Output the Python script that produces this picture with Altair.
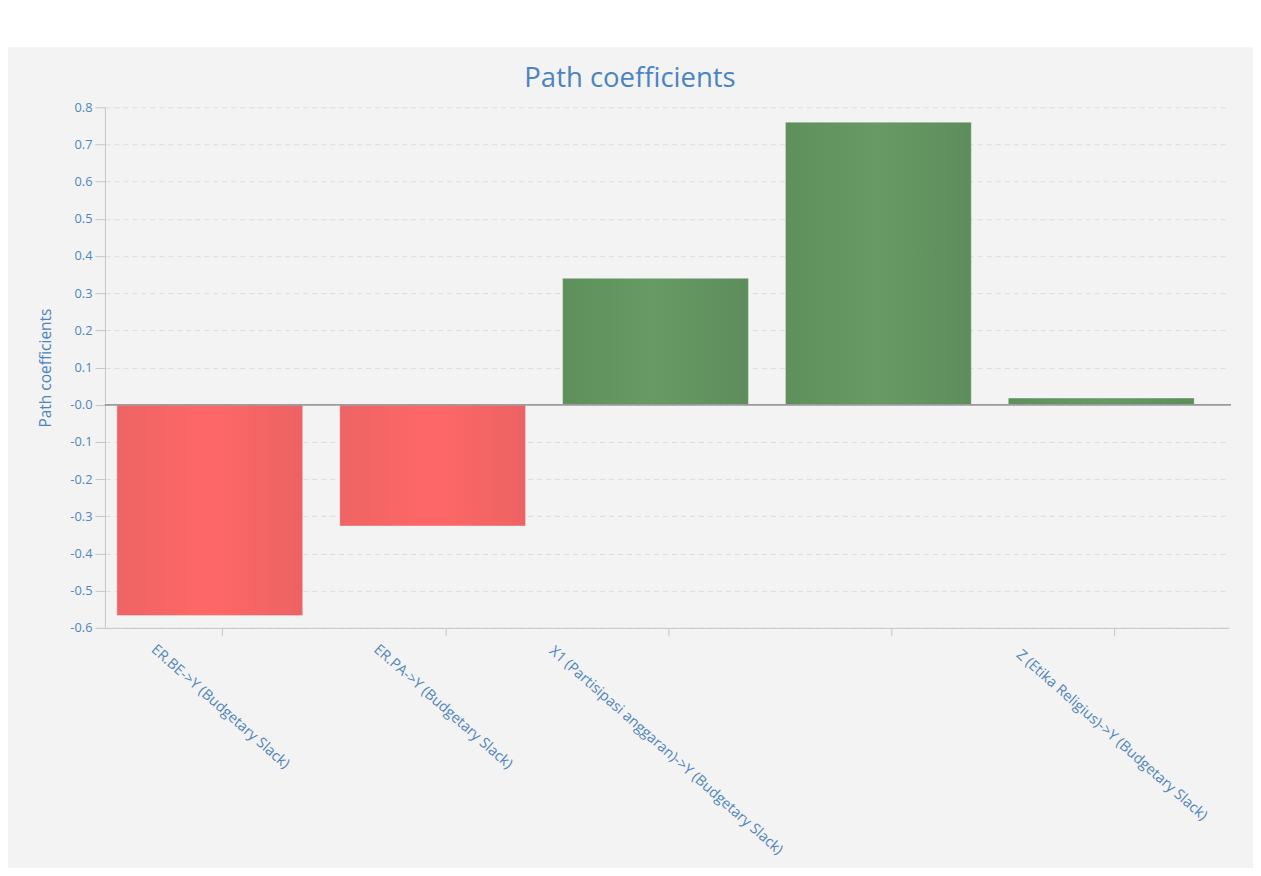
import altair as alt
import pandas as pd

# ---- data ----
paths = [
    "ER.BE->Y (Budgetary Slack)",
    "ER.PA->Y (Budgetary Slack)",
    "X1 (Partisipasi anggaran)->Y (Budgetary Slack)",
    "X2 (Budget Emphasis)->Y (Budgetary Slack)",
    "Z (Etika Religius)->Y (Budgetary Slack)",
]
coefficients = [-0.567, -0.326, 0.340, 0.760, 0.018]
label_shown = [True, True, True, False, True]
y_ticks = [-0.6, -0.5, -0.4, -0.3, -0.2, -0.1, 0.0, 0.1, 0.2, 0.3, 0.4, 0.5, 0.6, 0.7, 0.8]

df = pd.DataFrame({"path": paths, "coef": coefficients, "shown": label_shown})

FONT = "Open Sans"
BLUE = "#4a84c2"
LABEL_BLUE = "#4f86bd"
AXIS_GRAY = "#c6c6c6"
W, H = 1125, 521
LABEL_SIZE = 14.5
LABEL_ANGLE = 41.5
CHAR_W = 6.6  # approx. pixel width of one label character at LABEL_SIZE
SIN_A, COS_A = 0.663, 0.749

red_grad = alt.LinearGradient(
    gradient="linear", x1=0, x2=1, y1=0, y2=0,
    stops=[alt.GradientStop(offset=0, color="#ee6464"),
           alt.GradientStop(offset=0.5, color="#ff6767"),
           alt.GradientStop(offset=1, color="#ec6363")],
)
green_grad = alt.LinearGradient(
    gradient="linear", x1=0, x2=1, y1=0, y2=0,
    stops=[alt.GradientStop(offset=0, color="#5e905c"),
           alt.GradientStop(offset=0.5, color="#689a66"),
           alt.GradientStop(offset=1, color="#5c8d5a")],
)

x_scale = alt.Scale(domain=paths, paddingInner=0.166, paddingOuter=0.105, align=0.255)
y_scale = alt.Scale(domain=[-0.6, 0.8], nice=False, zero=False)

x_axis = alt.Axis(labels=False, ticks=True, tickSize=8, tickColor=AXIS_GRAY,
                  domainColor=AXIS_GRAY, bandPosition=0.57, grid=False)
y_axis = alt.Axis(
    values=y_ticks, tickCount=30,
    labelExpr="abs(datum.value) < 1e-9 ? '-0.0' : (datum.value < 0 ? '-' : '') + format(abs(datum.value), '.1f')",
    labelColor=LABEL_BLUE, labelFont=FONT, labelFontSize=12.8, labelPadding=3,
    tickSize=10, tickColor=AXIS_GRAY, domainColor=AXIS_GRAY,
    grid=True, gridColor="#dcdcdc", gridDash=[5, 4], gridWidth=1,
    titleColor=BLUE, titleFont=FONT, titleFontSize=15.5, titleFontWeight="normal",
    titlePadding=16,
)

x_enc = alt.X("path:N", sort=paths, scale=x_scale, title=None, axis=x_axis)
y_enc = alt.Y("coef:Q", scale=y_scale, title="Path coefficients", axis=y_axis)

base = alt.Chart(df)

# white strip above the grey panel
top_strip = alt.Chart(pd.DataFrame({"k": [0]})).mark_rect(color="white").encode(
    x=alt.value(-100), x2=alt.value(W + 30), y=alt.value(-100), y2=alt.value(-60)
)

neg_bars = base.transform_filter("datum.coef < 0").mark_bar(
    color=red_grad, stroke="#ffffff", strokeOpacity=0.35, strokeWidth=1
).encode(x=x_enc, y=y_enc)

pos_bars = base.transform_filter("datum.coef >= 0").mark_bar(
    color=green_grad, stroke="#ffffff", strokeOpacity=0.35, strokeWidth=1
).encode(x=x_enc, y=y_enc)

zero_line = base.transform_filter("datum.coef < 0").transform_calculate(z="0").mark_rule(
    color="#9c9c9c", strokeWidth=1.5
).encode(
    y=alt.Y("z:Q", scale=y_scale, title="Path coefficients", axis=y_axis),
    x=alt.value(0), x2=alt.value(W + 2),
)

labels = base.transform_filter("datum.shown").transform_calculate(
    r=f"0.5 * (length(datum.path) * {CHAR_W} * {SIN_A} + {LABEL_SIZE} * {COS_A})"
).mark_text(
    angle=LABEL_ANGLE, align="center", baseline="middle", font=FONT, fontSize=LABEL_SIZE,
    color=LABEL_BLUE, theta=3.14159265,
).encode(
    x=alt.X("path:N", sort=paths, scale=x_scale, bandPosition=0.555, title=None, axis=x_axis),
    y=alt.value(H + 17),
    radius=alt.Radius("r:Q", scale=None),
    text="path:N",
)

chart = alt.layer(top_strip, neg_bars, pos_bars, zero_line, labels).properties(
    width=W, height=H,
    background="#f3f3f3",
    padding={"left": 97, "top": 99, "right": 24, "bottom": 240},
    autosize=alt.AutoSizeParams(type="none"),
    title=alt.TitleParams(
        "Path coefficients", font=FONT, fontSize=27.5, fontWeight="normal",
        color=BLUE, anchor="middle", frame="group", dx=-37, offset=-107,
        baseline="alphabetic",
    ),
).configure_view(stroke=None)

chart.save("out.html", embed_options={"renderer": "svg", "actions": False})
